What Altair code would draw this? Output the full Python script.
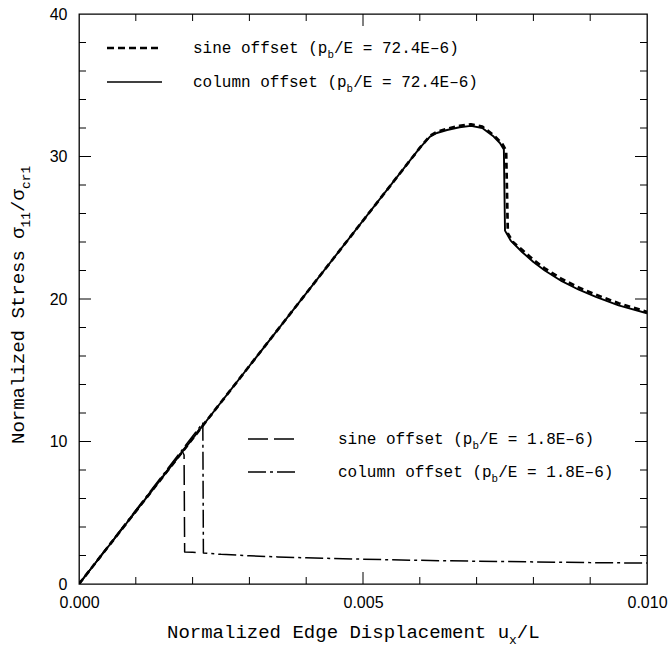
import altair as alt
import pandas as pd

# ---------------- data ----------------
# column offset, pb/E = 72.4E-6 (solid)
col72_u = [0.0, 0.0060, 0.00618, 0.0063, 0.00648, 0.0067, 0.0069, 0.0071, 0.0073, 0.00741,
           0.00748, 0.00750, 0.0076, 0.0078, 0.0080, 0.0082, 0.0085, 0.0088, 0.0091, 0.0095, 0.0100]
col72_s = [0.0, 30.6, 31.4, 31.65, 31.86, 32.05, 32.15, 32.0, 31.4, 30.95,
           30.5, 24.8, 24.1, 23.3, 22.6, 22.0, 21.25, 20.65, 20.15, 19.55, 19.0]
# sine offset, pb/E = 72.4E-6 (short dashes)
sin72_u = [0.0, 0.0060, 0.00618, 0.0063, 0.00648, 0.0067, 0.0069, 0.0071, 0.0073, 0.00745,
           0.00752, 0.00755, 0.00764, 0.0078, 0.0080, 0.0082, 0.0085, 0.0088, 0.0091, 0.0095, 0.0100]
sin72_s = [0.0, 30.6, 31.45, 31.72, 31.95, 32.15, 32.25, 32.1, 31.5, 30.9,
           30.4, 24.6, 24.0, 23.45, 22.75, 22.15, 21.4, 20.8, 20.3, 19.7, 19.1]
# column offset, pb/E = 1.8E-6 (dash-dot)
col18_u = [0.0, 0.00218, 0.00219, 0.0025, 0.0030, 0.0035, 0.0040, 0.0050, 0.0060, 0.0070,
           0.0080, 0.0090, 0.0100]
col18_s = [0.0, 11.3, 2.18, 2.08, 1.98, 1.9, 1.84, 1.74, 1.66, 1.6, 1.55, 1.5, 1.47]
# sine offset, pb/E = 1.8E-6 (long dashes)
sin18_u = [0.0, 0.00182, 0.00185, 0.00186, 0.0020, 0.0021]
sin18_s = [0.0, 9.3, 9.05, 2.25, 2.22, 2.2]

x_labels = [0.0, 0.005, 0.010]
y_labels = [0, 10, 20, 30, 40]
x_minor = [0.001, 0.002, 0.003, 0.004, 0.006, 0.007, 0.008, 0.009]
x_major = [0.005]
y_minor = [2, 4, 6, 8, 12, 14, 16, 18, 22, 24, 26, 28, 32, 34, 36, 38]
y_major = [10, 20, 30]

legend_top = [
    [("sine offset (p", 0), ("b", 1), ("/E = 72.4E–6)", 0)],
    [("column offset (p", 0), ("b", 1), ("/E = 72.4E–6)", 0)],
]
legend_bottom = [
    [("sine offset (p", 0), ("b", 1), ("/E = 1.8E–6)", 0)],
    [("column offset (p", 0), ("b", 1), ("/E = 1.8E–6)", 0)],
]
x_title = [("Normalized Edge Displacement u", 0), ("x", 1), ("/L", 0)]
y_title = [("Normalized Stress σ", 0), ("11", 1), ("/σ", 0), ("cr1", 1)]

# ---------------- layout ----------------
W, H = 568, 570
MONO = "Liberation Mono"
SANS = "Liberation Sans"
dummy = pd.DataFrame({"a": [0]})

xscale = alt.Scale(domain=[0, 0.01], nice=False, zero=False)
yscale = alt.Scale(domain=[0, 40], nice=False, zero=False)
xaxis = alt.Axis(values=x_labels, format=".3f", ticks=False, domain=False, grid=False,
                 labelFont=SANS, labelFontSize=16, labelPadding=10, labelFlush=False,
                 labelColor="black", title=None)
yaxis = alt.Axis(values=y_labels, format="d", ticks=False, domain=False, grid=False,
                 labelFont=SANS, labelFontSize=16, labelPadding=12,
                 labelColor="black", title=None)


def line_layer(u, s, width, dash=None):
    kw = dict(color="black", strokeWidth=width, clip=True, strokeCap="butt", strokeJoin="round")
    if dash:
        kw["strokeDash"] = dash
    df = pd.DataFrame({"u": u, "s": s, "i": list(range(len(u)))})
    return alt.Chart(df).mark_line(**kw).encode(
        x=alt.X("u:Q", scale=xscale, axis=xaxis),
        y=alt.Y("s:Q", scale=yscale, axis=yaxis),
        order="i:Q",
    )


def xtick_layers(vals, length):
    df = pd.DataFrame({"v": vals})
    base = alt.Chart(df).mark_rule(color="black", strokeWidth=1)
    return [
        base.encode(x=alt.X("v:Q", scale=xscale, axis=xaxis), y=alt.value(H), y2=alt.value(H - length)),
        base.encode(x=alt.X("v:Q", scale=xscale, axis=xaxis), y=alt.value(0), y2=alt.value(length)),
    ]


def ytick_layers(vals, length):
    df = pd.DataFrame({"v": vals})
    base = alt.Chart(df).mark_rule(color="black", strokeWidth=1)
    return [
        base.encode(y=alt.Y("v:Q", scale=yscale, axis=yaxis), x=alt.value(0), x2=alt.value(length)),
        base.encode(y=alt.Y("v:Q", scale=yscale, axis=yaxis), x=alt.value(W), x2=alt.value(W - length)),
    ]


def text_layers(parts, x0, y0, fs, vertical=False):
    out = []
    acc = 0.0
    for t, sub in parts:
        size = fs * 0.68 if sub else fs
        shift = fs * 0.3 if sub else 0.0
        if vertical:
            px, py, ang = x0 + shift, y0 - acc, 270
        else:
            px, py, ang = x0 + acc, y0 + shift, 0
        out.append(
            alt.Chart(dummy).mark_text(text=t, font=MONO, fontSize=size, angle=ang, align="left",
                                       baseline="alphabetic", color="black")
            .encode(x=alt.value(px), y=alt.value(py))
        )
        acc += len(t) * 0.6 * size
    return out


def sample_layer(x1, x2, y, width, dash=None):
    kw = dict(color="black", strokeWidth=width, strokeCap="butt")
    if dash:
        kw["strokeDash"] = dash
    return alt.Chart(dummy).mark_rule(**kw).encode(x=alt.value(x1), x2=alt.value(x2), y=alt.value(y))


DASH72 = [6, 4]
DASH18 = [20, 6]
DASHDOT = [18, 4, 3, 4]

layers = []
layers += [
    line_layer(sin72_u, sin72_s, 2.7, DASH72),
    line_layer(col72_u, col72_s, 1.9),
    line_layer(sin18_u, sin18_s, 1.5, DASH18),
    line_layer(col18_u, col18_s, 1.5, DASHDOT),
]
layers += xtick_layers(x_minor, 7) + xtick_layers(x_major, 12)
layers += ytick_layers(y_minor, 7) + ytick_layers(y_major, 12)

# legends (inside plot)
ROW_T = [34, 68]
ROW_B = [425, 458]
FS_LEG = 16
layers.append(sample_layer(28, 83, ROW_T[0], 2.7, [7, 4]))
layers.append(sample_layer(28, 83, ROW_T[1], 1.6))
layers.append(sample_layer(169, 218, ROW_B[0], 1.5, [20, 6]))
layers.append(sample_layer(169, 218, ROW_B[1], 1.5, DASHDOT))
for r, parts in zip(ROW_T, legend_top):
    layers += text_layers(parts, 114, r + 5, FS_LEG)
for r, parts in zip(ROW_B, legend_bottom):
    layers += text_layers(parts, 259, r + 5, FS_LEG)

# axis titles
layers += text_layers(x_title, 88, 624, 19)
layers += text_layers(y_title, -55, 430, 19, vertical=True)

chart = (
    alt.layer(*layers)
    .properties(width=W, height=H, autosize=alt.AutoSizeParams(type="none"),
                padding={"left": 79, "top": 14, "right": 25, "bottom": 64})
    .configure_view(stroke="black", strokeWidth=1.3)
)

chart.save("out.html", embed_options={"renderer": "svg", "actions": False})
